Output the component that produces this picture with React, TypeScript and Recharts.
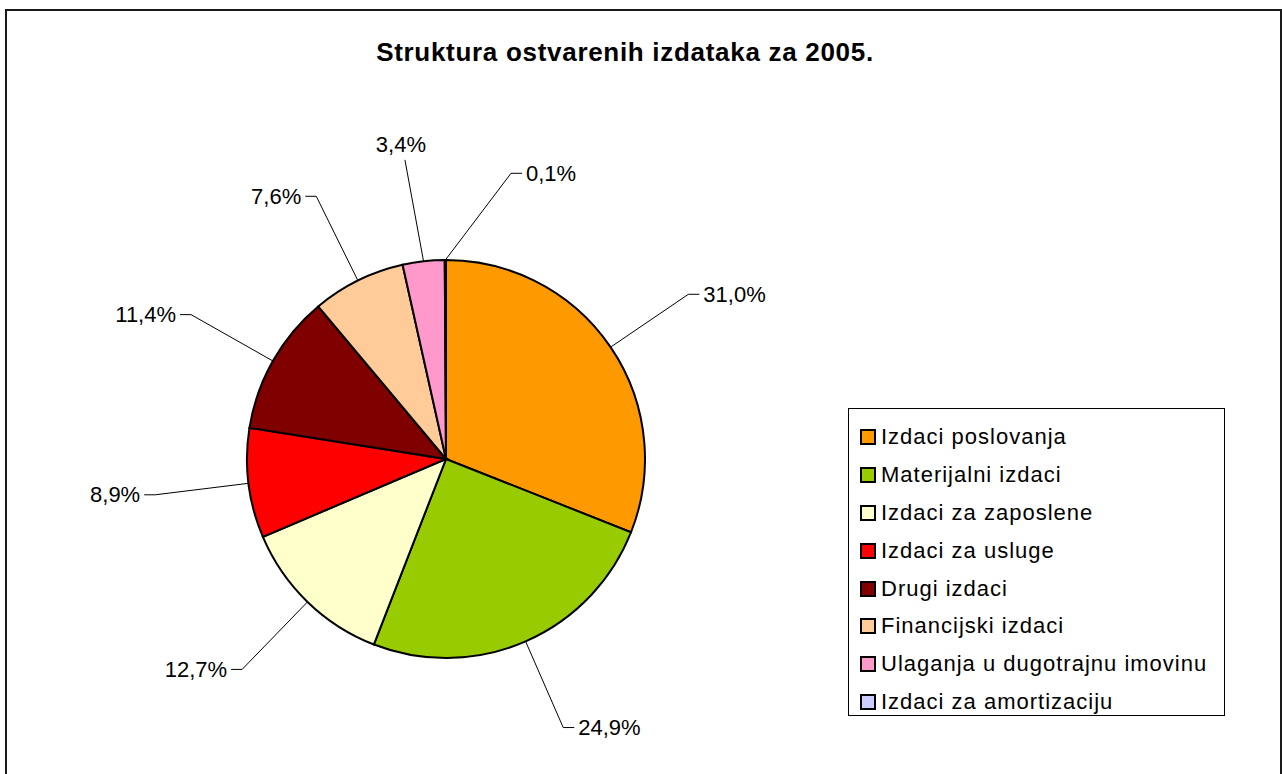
import { Cell, Legend, Pie, PieChart } from 'recharts';

const CATEGORIES = [
  'Izdaci poslovanja',
  'Materijalni izdaci',
  'Izdaci za zaposlene',
  'Izdaci za usluge',
  'Drugi izdaci',
  'Financijski izdaci',
  'Ulaganja u dugotrajnu imovinu',
  'Izdaci za amortizaciju',
];
const SHARES = [31.0, 24.9, 12.7, 8.9, 11.4, 7.6, 3.4, 0.1];
const COLORS = ['#FF9900', '#99CC00', '#FFFFCC', '#FF0000', '#800000', '#FFCC99', '#FF99CC', '#CCCCFF'];

const TITLE = 'Struktura ostvarenih izdataka za 2005.';
const FONT = '"Liberation Sans", Arial, sans-serif';

const W = 1282;
const H = 774;
const CX = 446;
const CY = 459;
const R = 199;
const LABEL_GAP = 94;
const MIN_LABEL_DIST = 98;

const chartData = CATEGORIES.map((name, i) => ({ name, value: SHARES[i] }));

const RAD = Math.PI / 180;

// spread label angles so small neighbouring slices don't collide
function labelAngles(values: number[], radius: number) {
  const total = values.reduce((a, b) => a + b, 0);
  let cum = 0;
  const mids = values.map((v) => {
    const m = 90 - ((cum + v / 2) / total) * 360;
    cum += v;
    return m;
  });
  const out: number[] = [];
  mids.forEach((m, i) => {
    let a = m;
    if (i > 0) {
      const prev = out[i - 1];
      const dist = (x: number) => 2 * radius * Math.abs(Math.sin(((x - prev) * RAD) / 2));
      while (dist(a) < MIN_LABEL_DIST) a -= 1;
    }
    out.push(a);
  });
  return out;
}

const ANGLES = labelAngles(SHARES, R + LABEL_GAP);

const fmt = (v: number) => `${v.toFixed(1).replace('.', ',')}%`;

function renderLabel(props: any) {
  const { cx, cy, midAngle, outerRadius, index, value } = props;
  const sx = cx + outerRadius * Math.cos(-midAngle * RAD);
  const sy = cy + outerRadius * Math.sin(-midAngle * RAD);
  const a = ANGLES[index] ?? midAngle;
  const lr = outerRadius + LABEL_GAP;
  const ex = cx + lr * Math.cos(-a * RAD);
  const ey = cy + lr * Math.sin(-a * RAD);
  const c = Math.cos(a * RAD);
  const text = fmt(value);

  if (Math.abs(c) < 0.2) {
    return (
      <g>
        <polyline points={`${sx},${sy} ${ex - 8},${ey - 8}`} fill="none" stroke="#000" strokeWidth={1} />
        <text x={ex - 12} y={ey - 16} textAnchor="middle" fontFamily={FONT} fontSize={22} fill="#000">
          {text}
        </text>
      </g>
    );
  }
  const dir = c >= 0 ? 1 : -1;
  const hx = ex + dir * 11;
  return (
    <g>
      <polyline points={`${sx},${sy} ${ex},${ey} ${hx},${ey}`} fill="none" stroke="#000" strokeWidth={1} />
      <text
        x={hx + dir * 4}
        y={ey}
        dominantBaseline="central"
        textAnchor={dir > 0 ? 'start' : 'end'}
        fontFamily={FONT}
        fontSize={22}
        fill="#000"
      >
        {text}
      </text>
    </g>
  );
}

function LegendBox(props: any) {
  const items = [...(props.payload ?? [])].sort(
    (a: any, b: any) => CATEGORIES.indexOf(a.value) - CATEGORIES.indexOf(b.value),
  );
  return (
    <div
      style={{
        border: '1px solid #000',
        background: '#fff',
        boxSizing: 'border-box',
        width: 377,
        height: 308,
        padding: '9px 0 0 11px',
        fontFamily: FONT,
      }}
    >
      {items.map((it: any) => (
        <div key={it.value} style={{ display: 'flex', alignItems: 'center', height: 37.9 }}>
          <span
            style={{
              display: 'inline-block',
              width: 12,
              height: 12,
              border: '2px solid #000',
              background: it.color,
              marginRight: 5,
            }}
          />
          <span style={{ fontSize: 22, letterSpacing: 1, color: '#000', whiteSpace: 'nowrap' }}>{it.value}</span>
        </div>
      ))}
    </div>
  );
}

export default function App() {
  return (
    <div style={{ position: 'absolute', left: 0, top: 0, width: W, height: H, overflow: 'hidden', background: '#fff' }}>
      <div
        style={{
          position: 'absolute',
          left: 5,
          top: 9,
          width: W - 5 - 4,
          height: H + 20,
          border: '2px solid #1a1a1a',
        }}
      />
      <div
        style={{
          position: 'absolute',
          left: 0,
          top: 37,
          width: 1250,
          textAlign: 'center',
          fontFamily: FONT,
          fontWeight: 'bold',
          fontSize: 26,
          letterSpacing: 0.7,
          color: '#000',
        }}
      >
        {TITLE}
      </div>
      <div style={{ position: 'absolute', left: 0, top: 0 }}>
        <PieChart width={W} height={H} margin={{ top: 0, right: 0, bottom: 0, left: 0 }}>
          <Pie
            data={chartData}
            dataKey="value"
            nameKey="name"
            cx={CX}
            cy={CY}
            outerRadius={R}
            startAngle={90}
            endAngle={-270}
            stroke="#000"
            strokeWidth={2}
            label={renderLabel}
            labelLine={false}
            isAnimationActive={false}
          >
            {chartData.map((d, i) => (
              <Cell key={d.name} fill={COLORS[i]} />
            ))}
          </Pie>
          <Legend
            layout="vertical"
            align="right"
            verticalAlign="middle"
            content={<LegendBox />}
            wrapperStyle={{ left: 848, top: 408, width: 377, height: 308 }}
          />
        </PieChart>
      </div>
    </div>
  );
}
